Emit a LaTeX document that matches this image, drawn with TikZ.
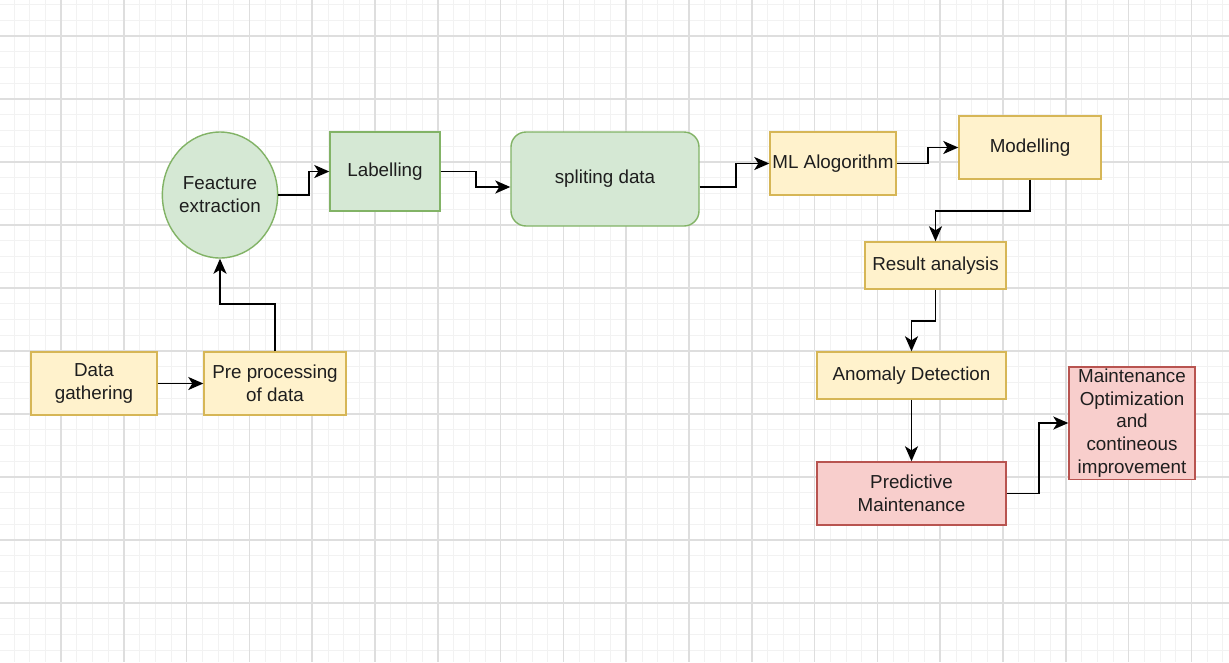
\documentclass[tikz,border=0pt]{standalone}
\usepackage{fontspec}
\setmainfont{Liberation Sans}
\usepackage{tikz}
\usetikzlibrary{arrows.meta,shapes.geometric}

\definecolor{yelfill}{HTML}{FFF2CC}
\definecolor{yeldraw}{HTML}{D6B656}
\definecolor{grnfill}{HTML}{D5E8D4}
\definecolor{grndraw}{HTML}{82B366}
\definecolor{redfill}{HTML}{F8CECC}
\definecolor{reddraw}{HTML}{B85450}
\definecolor{majgrid}{HTML}{DEDEDE}
\definecolor{mingrid}{HTML}{F2F2F2}
\definecolor{ink}{HTML}{1E1E1E}

\begin{document}
\begin{tikzpicture}
[font=\fontsize{10.7}{13}\selectfont,
 yelbox/.style ={rectangle, draw=yeldraw, fill=yelfill, line width=0.8pt, align=center, text=ink, inner sep=1pt},
 grnbox/.style ={rectangle, draw=grndraw, fill=grnfill, line width=0.8pt, align=center, text=ink, inner sep=1pt},
 redbox/.style ={rectangle, draw=reddraw, fill=redfill, line width=0.8pt, align=center, text=ink, inner sep=1pt},
 oval/.style ={ellipse, draw=grndraw, fill=grnfill, line width=0.8pt, align=center, text=ink, inner sep=0pt},
 line/.style ={draw, line width=1.1pt, -{Stealth[length=3mm,width=2.6mm,inset=0.8mm]}},
 mingridline/.style ={draw=mingrid, line width=0.4pt},
 majgridline/.style ={draw=majgrid, line width=0.9pt}]
\useasboundingbox (0,0) rectangle (24.58,-13.24);
\fill[white] (0,0) rectangle (24.58,-13.24);
% grid paper
\foreach \i in {-3,...,74} \draw[mingridline] ({1.22+0.314*\i},0) -- ({1.22+0.314*\i},-13.24);
\foreach \j in {-2,...,39} \draw[mingridline] (0,{-0.72-0.315*\j}) -- (24.58,{-0.72-0.315*\j});
\foreach \i in {-1,...,18} \draw[majgridline] ({1.22+1.256*\i},0) -- ({1.22+1.256*\i},-13.24);
\foreach \j in {0,...,9} \draw[majgridline] (0,{-0.72-1.26*\j}) -- (24.58,{-0.72-1.26*\j});
% nodes
\draw (1.88, -7.67) node[yelbox, minimum width=2.52cm, minimum height=1.26cm] (gather) {Data\\gathering};
\draw (5.50, -7.67) node[yelbox, minimum width=2.84cm, minimum height=1.26cm] (prep) {Pre processing\\of data};
\draw (4.40, -3.90) node[oval, minimum width=1.88cm, minimum height=2.52cm] (feat) {Feacture\\extraction};
\draw (7.70, -3.43) node[grnbox, minimum width=2.20cm, minimum height=1.58cm] (label) {Labelling};
\draw (12.10, -3.58) node[grnbox, rounded corners=0.3cm, minimum width=3.76cm, minimum height=1.88cm] (split) {spliting data};
\draw (16.66, -3.27) node[yelbox, minimum width=2.52cm, minimum height=1.26cm] (mlalg) {ML Alogorithm};
\draw (20.60, -2.95) node[yelbox, minimum width=2.84cm, minimum height=1.26cm] (model) {Modelling};
\draw (18.71, -5.31) node[yelbox, minimum width=2.82cm, minimum height=0.94cm] (result) {Result analysis};
\draw (18.23, -7.51) node[yelbox, minimum width=3.78cm, minimum height=0.94cm] (anomaly) {Anomaly Detection};
\draw (18.23, -9.87) node[redbox, minimum width=3.78cm, minimum height=1.26cm] (predict) {Predictive\\Maintenance};
\draw (22.64, -8.46) node[redbox, minimum width=2.52cm, minimum height=2.20cm] (maint) {Maintenance\\Optimization\\and\\contineous\\improvement};
% connectors
\draw[line] (gather) -- (prep);
\draw[line] (prep.north) -- ++(0,0.94) -| (feat.south);
\draw[line] (feat.east) -- ++(0.62,0) |- (label.west);
\draw[line] (label.east) -- ++(0.70,0) |- ([yshift=-0.16cm]split.west);
\draw[line] ([yshift=-0.16cm]split.east) -- ++(0.72,0) |- (mlalg.west);
\draw[line] (mlalg.east) -- ++(0.62,0) |- (model.west);
\draw[line] (model.south) -- ++(0,-0.62) -| (result.north);
\draw[line] (result.south) -- ++(0,-0.62) -| (anomaly.north);
\draw[line] (anomaly) -- (predict);
\draw[line] (predict.east) -- ++(0.64,0) |- (maint.west);
\end{tikzpicture}
\end{document}
